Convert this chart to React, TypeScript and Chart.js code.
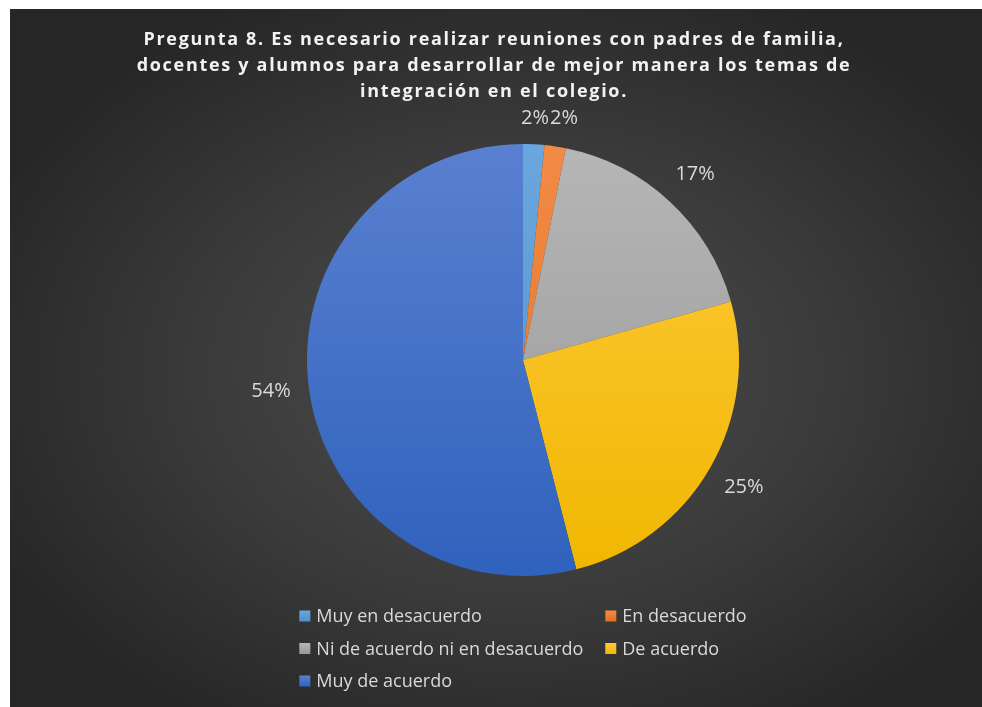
import React, { useEffect, useRef } from "react";
import { Chart, registerables } from "chart.js";

Chart.register(...registerables);

const titleLines = [
  "Pregunta 8. Es necesario realizar reuniones con padres de familia,",
  "docentes y alumnos para desarrollar de mejor manera los temas de",
  "integración en el colegio.",
];
const categories = [
  "Muy en desacuerdo",
  "En desacuerdo",
  "Ni de acuerdo ni en desacuerdo",
  "De acuerdo",
  "Muy de acuerdo",
];
const counts = [1, 1, 11, 16, 34];

const topColors = ["#6aa7de", "#f28b47", "#b6b6b6", "#ffca3e", "#5a80d0"];
const bottomColors = ["#4f8fcc", "#e2701f", "#979797", "#f0b700", "#2f62bd"];

const FONT = "'Open Sans', sans-serif";
const TEXT_COLOR = "#d9d9d9";

const gradientFill = (c: any) => {
  const i = c.dataIndex ?? 0;
  const chart = c.chart;
  const area = chart.chartArea;
  if (!area) return bottomColors[i];
  const g = chart.ctx.createLinearGradient(0, area.top, 0, area.bottom);
  g.addColorStop(0, topColors[i]);
  g.addColorStop(1, bottomColors[i]);
  return g;
};

// letter-spaced title, centred on the whole canvas
const titleSpacingPlugin = {
  id: "titleSpacing",
  beforeDraw(chart: any) {
    const tb = chart.titleBlock;
    if (tb && !tb.__patched) {
      const orig = tb.draw.bind(tb);
      tb.draw = function () {
        const ctx = chart.ctx as any;
        const prev = ctx.letterSpacing;
        const shift = chart.width / 2 - (tb.left + tb.right) / 2 - 2;
        ctx.save();
        ctx.translate(shift, 0);
        ctx.letterSpacing = "1.7px";
        orig();
        ctx.restore();
        ctx.letterSpacing = prev || "0px";
      };
      tb.__patched = true;
    }
  },
};

const outsideLabelsPlugin = {
  id: "outsideLabels",
  afterDatasetsDraw(chart: any) {
    const ctx = chart.ctx;
    const meta = chart.getDatasetMeta(0);
    const data = chart.data.datasets[0].data as number[];
    const total = data.reduce((a, b) => a + b, 0);
    ctx.save();
    ctx.font = `20px ${FONT}`;
    ctx.fillStyle = TEXT_COLOR;
    ctx.textAlign = "center";
    ctx.textBaseline = "middle";
    const gap = 17;
    const h = 18;
    let prev: any = null;
    meta.data.forEach((arc: any, i: number) => {
      const p = arc.getProps(["x", "y", "startAngle", "endAngle", "outerRadius"], true);
      const mid = (p.startAngle + p.endAngle) / 2;
      const text = Math.round((data[i] / total) * 100) + "%";
      const w = ctx.measureText(text).width;
      const c = Math.cos(mid);
      const s = Math.sin(mid);
      const target = p.outerRadius + gap;
      let d = p.outerRadius;
      let x = p.x;
      let y = p.y;
      for (let k = 0; k < 400; k++) {
        x = p.x + c * d;
        y = p.y + s * d;
        const nx = Math.max(x - w / 2, Math.min(p.x, x + w / 2));
        const ny = Math.max(y - h / 2, Math.min(p.y, y + h / 2));
        if (Math.hypot(nx - p.x, ny - p.y) >= target) break;
        d += 0.5;
      }
      if (prev) {
        const overlapX = prev.x + prev.w / 2 + 1 - (x - w / 2);
        if (overlapX > 0 && Math.abs(prev.y - y) < h) {
          x += overlapX;
        }
      }
      ctx.fillText(text, x, y);
      prev = { x, y, w };
    });
    ctx.restore();
  },
};

const columnLegendPlugin = {
  id: "columnLegend",
  afterDraw(chart: any) {
    const ctx = chart.ctx;
    const area = chart.chartArea;
    const labels = chart.data.labels as string[];
    ctx.save();
    ctx.font = `18px ${FONT}`;
    const box = 11;
    const boxGap = 6;
    const colGap = 22;
    const rowH = 32.5;
    const cols = 2;
    const colW: number[] = [0, 0];
    labels.forEach((l, i) => {
      const w = box + boxGap + ctx.measureText(l).width;
      colW[i % cols] = Math.max(colW[i % cols], w);
    });
    const totalW = colW[0] + colGap + colW[1];
    const cx = (area.left + area.right) / 2;
    const left = cx - totalW / 2;
    const top = area.bottom + 40;
    ctx.textBaseline = "middle";
    ctx.textAlign = "left";
    labels.forEach((l, i) => {
      const col = i % cols;
      const row = Math.floor(i / cols);
      const x = left + (col === 0 ? 0 : colW[0] + colGap);
      const y = top + row * rowH;
      const g = ctx.createLinearGradient(0, y - box / 2, 0, y + box / 2);
      g.addColorStop(0, topColors[i]);
      g.addColorStop(1, bottomColors[i]);
      ctx.fillStyle = g;
      ctx.fillRect(x, y - box / 2, box, box);
      ctx.fillStyle = TEXT_COLOR;
      ctx.fillText(l, x + box + boxGap, y + 1);
    });
    ctx.restore();
  },
};

export default function App() {
  const ref = useRef<HTMLCanvasElement | null>(null);
  useEffect(() => {
    if (!ref.current) return;
    const chart = new Chart(ref.current, {
      type: "pie",
      data: {
        labels: categories,
        datasets: [
          {
            data: counts,
            backgroundColor: gradientFill as any,
            borderWidth: 0,
            hoverOffset: 0,
          },
        ],
      },
      options: {
        animation: false,
        responsive: false,
        maintainAspectRatio: false,
        layout: { padding: { left: 54, right: 0, top: 0, bottom: 131 } },
        plugins: {
          legend: { display: false },
          tooltip: { enabled: false },
          title: {
            display: true,
            text: titleLines,
            color: "#f2f2f2",
            font: { family: FONT, size: 18, weight: "bold", lineHeight: 26 / 18 },
            padding: { top: 18, bottom: 39 },
          },
        },
      },
      plugins: [titleSpacingPlugin, outsideLabelsPlugin, columnLegendPlugin],
    });
    chart.draw();
    return () => chart.destroy();
  }, []);
  return (
    <div
      style={{
        position: "absolute",
        left: 10,
        top: 9,
        width: 972,
        height: 698,
        background:
          "radial-gradient(ellipse 60% 60% at 52% 52%, #4e4e4e 0%, #3a3a3a 55%, #262626 100%)",
      }}
    >
      <canvas ref={ref} width={972} height={698} style={{ display: "block" }} />
    </div>
  );
}
